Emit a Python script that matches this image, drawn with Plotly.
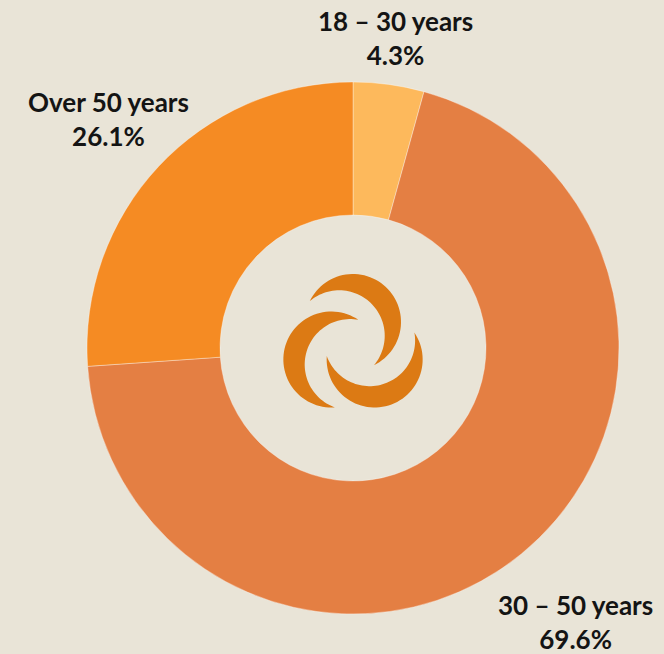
import numpy as np
import plotly.graph_objects as go

# age groups and their share of respondents
age_groups = ["18 – 30 years", "30 – 50 years", "Over 50 years"]
shares = [4.3, 69.6, 26.1]
slice_colours = ["#FDB95C", "#E47F43", "#F58B23"]

W, H = 664, 654


def px(x, y):
    # pixel -> paper coordinates
    return x / W, 1 - y / H


fig = go.Figure()

fig.add_trace(
    go.Pie(
        labels=age_groups,
        values=shares,
        hole=0.5,
        sort=False,
        direction="clockwise",
        rotation=0,
        marker=dict(colors=slice_colours,
                    line=dict(color="rgba(255,255,255,0.35)", width=1)),
        textinfo="none",
        showlegend=False,
        domain=dict(x=[87 / W, 619 / W], y=[1 - 614 / H, 1 - 82 / H]),
    )
)

# labels outside the ring
label_pos = {
    "18 – 30 years": (395, 38),
    "30 – 50 years": (575, 622),
    "Over 50 years": (108, 119),
}
for name, val in zip(age_groups, shares):
    lx, ly = px(*label_pos[name])
    fig.add_annotation(
        x=lx, y=ly, xref="paper", yref="paper",
        text=f"<b>{name}</b><br><b>{val}%</b>",
        showarrow=False,
        font=dict(family="Lato", size=26, color="#141414"),
        align="center",
        xanchor="center", yanchor="middle",
    )


# logo in the hole: three crescents rotated 120 degrees
def crescent_path(cx, cy, angle_dir, r1=48, r2=45.5, d=19.5):
    x0 = (r1**2 - r2**2 + d**2) / (2 * d)
    y0 = np.sqrt(r1**2 - x0**2)
    phi0 = np.arctan2(y0, x0)
    psi0 = np.arctan2(y0, x0 - d)
    t_out = np.linspace(phi0, 2 * np.pi - phi0, 60)
    t_in = np.linspace(2 * np.pi - psi0, psi0, 60)
    xs = np.concatenate([r1 * np.cos(t_out), d + r2 * np.cos(t_in)])
    ys = np.concatenate([r1 * np.sin(t_out), r2 * np.sin(t_in)])
    a = np.deg2rad(angle_dir + 225)
    rx = cx + xs * np.cos(a) - ys * np.sin(a)
    ry = cy + xs * np.sin(a) + ys * np.cos(a)
    pts = [px(x, y) for x, y in zip(rx, ry)]
    return "M " + " L ".join(f"{x:.5f},{y:.5f}" for x, y in pts) + " Z"


logo_x, logo_y = 353, 347
for k in range(3):
    ang = -90 + 120 * k
    cx = logo_x + 25 * np.cos(np.deg2rad(ang))
    cy = logo_y + 25 * np.sin(np.deg2rad(ang))
    fig.add_shape(
        type="path", xref="paper", yref="paper",
        path=crescent_path(cx, cy, ang),
        fillcolor="#DC7A14", line=dict(width=0),
    )

fig.update_layout(
    width=W, height=H,
    margin=dict(l=0, r=0, t=0, b=0),
    paper_bgcolor="#E9E4D7",
    plot_bgcolor="#E9E4D7",
)

# drop the default body margin so the figure sits at the window's corner
fig.write_html(
    "out.html",
    config={"displayModeBar": False},
    post_script="document.body.style.margin='0';"
                "document.body.style.overflow='hidden';"
                "document.body.style.background='#E9E4D7';",
)
